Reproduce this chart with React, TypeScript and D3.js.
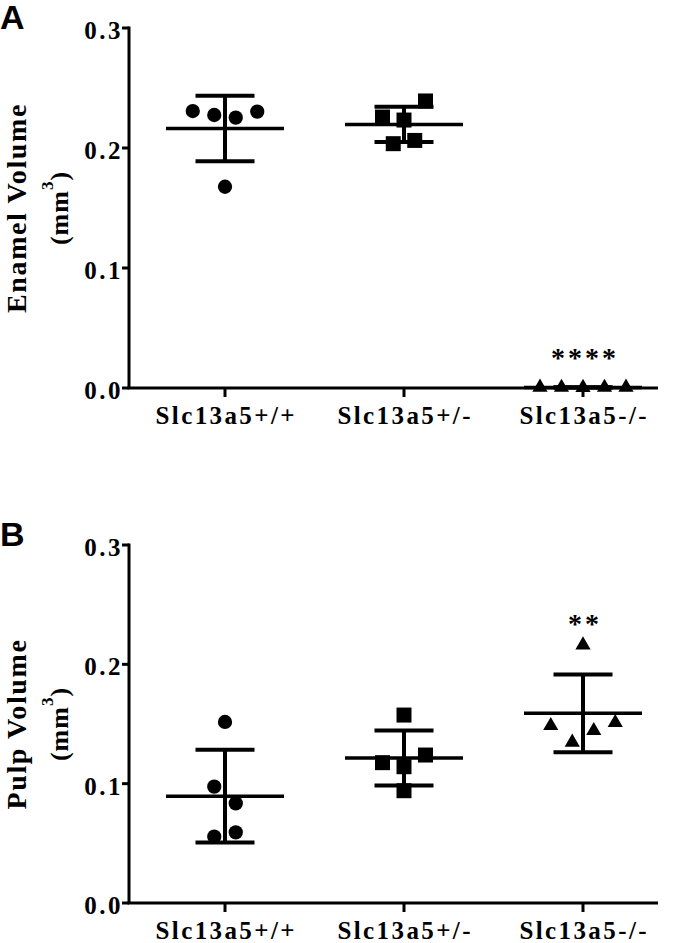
import React from "react";
import * as d3 from "d3";

const categories = ["Slc13a5+/+", "Slc13a5+/-", "Slc13a5-/-"];
const yTicks = [0, 0.1, 0.2, 0.3];

// Panel A: enamel volume (mm^3)
const enamelWT = [0.2308, 0.2275, 0.2253, 0.2303, 0.1677];
const enamelHet = [0.2392, 0.2258, 0.2233, 0.2036, 0.2063];
const enamelKO = [0.0006, 0.0005, 0.0003, 0.0005, 0.0006];
// Panel B: pulp volume (mm^3)
const pulpWT = [0.1517, 0.0975, 0.0835, 0.0556, 0.0592];
const pulpHet = [0.1575, 0.124, 0.1176, 0.1142, 0.0941];
const pulpKO = [0.2162, 0.1486, 0.1347, 0.1444, 0.1511];

// horizontal scatter slot of each point (dot-plot jitter)
const enamelWTSlot = [-1.5, -0.5, 0.5, 1.5, 0];
const enamelHetSlot = [1, -1, 0, -0.5, 0.5];
const enamelKOSlot = [-2, -1, 0, 1, 2];
const pulpWTSlot = [0, -0.5, 0.5, -0.5, 0.5];
const pulpHetSlot = [0, 1, -1, 0, 0];
const pulpKOSlot = [0, -1.5, -0.5, 0.5, 1.5];

const enamelSig = ["", "", "****"];
const pulpSig = ["", "", "**"];

const markers = [d3.symbolCircle, d3.symbolSquare, d3.symbolTriangle];
const markerSizes = [160, 225, 100];

const SERIF = "Liberation Serif, DejaVu Serif, serif";
const SANS = "Liberation Sans, Arial, sans-serif";

type PanelProps = {
  letter: string;
  top: number;
  bottom: number;
  titleLine: string;
  groups: number[][];
  slots: number[][];
  sig: string[];
  sigGap: number;
};

function Panel({ letter, top, bottom, titleLine, groups, slots, sig, sigGap }: PanelProps) {
  const axisX = 129;
  const axisEnd = 658;
  const x = d3.scalePoint<string>().domain(categories).range([225, 583]);
  const y = d3.scaleLinear().domain([0, 0.3]).range([bottom, top]);
  const slotW = 21.5;
  const midY = (top + bottom) / 2;
  const serif = { fontFamily: SERIF, fontWeight: 700 as const };
  return (
    <g>
      <text x={0} y={top + 1} style={{ fontFamily: SANS, fontWeight: 700 }} fontSize={34} fill="#000">
        {letter}
      </text>
      {/* y axis title */}
      <text
        transform={`translate(26,${midY}) rotate(-90)`}
        textAnchor="middle"
        style={serif}
        fontSize={28}
        letterSpacing={1.6}
      >
        {titleLine}
      </text>
      <text
        transform={`translate(68,${midY}) rotate(-90)`}
        textAnchor="middle"
        style={serif}
        fontSize={26}
        letterSpacing={1}
      >
        (mm
        <tspan fontSize={17} dy={-15}>3</tspan>
        <tspan dy={15}>)</tspan>
      </text>
      {/* y axis */}
      <line x1={axisX} x2={axisX} y1={top - 1.5} y2={bottom} stroke="#000" strokeWidth={3} />
      {yTicks.map((t) => (
        <g key={t}>
          <line x1={axisX - 7} x2={axisX} y1={y(t)} y2={y(t)} stroke="#000" strokeWidth={3} />
          <text
            x={123}
            y={y(t) + 11}
            textAnchor="end"
            style={serif}
            fontSize={25}
            letterSpacing={2.5}
          >
            {d3.format(".1f")(t)}
          </text>
        </g>
      ))}
      {/* x axis */}
      <line x1={axisX - 1.5} x2={axisEnd} y1={bottom} y2={bottom} stroke="#000" strokeWidth={3} />
      {categories.map((c) => (
        <g key={c}>
          <line x1={x(c)!} x2={x(c)!} y1={bottom} y2={bottom + 9} stroke="#000" strokeWidth={3} />
          <text
            x={x(c)! + 1.2}
            y={bottom + 36}
            textAnchor="middle"
            style={serif}
            fontSize={25}
            letterSpacing={2.4}
          >
            {c}
          </text>
        </g>
      ))}
      {groups.map((vals, gi) => {
        const cx = x(categories[gi])!;
        const mean = d3.mean(vals)!;
        const sd = d3.deviation(vals)!;
        const sym = d3.symbol(markers[gi], markerSizes[gi])()!;
        return (
          <g key={gi}>
            {vals.map((v, i) => (
              <path
                key={i}
                d={sym}
                transform={`translate(${cx + slots[gi][i] * slotW},${y(v)})`}
                fill="#000"
              />
            ))}
            <line x1={cx - 59} x2={cx + 59} y1={y(mean)} y2={y(mean)} stroke="#000" strokeWidth={3.5} />
            <line x1={cx} x2={cx} y1={y(mean + sd)} y2={y(mean - sd)} stroke="#000" strokeWidth={4} />
            <line x1={cx - 29.5} x2={cx + 29.5} y1={y(mean + sd)} y2={y(mean + sd)} stroke="#000" strokeWidth={4} />
            <line x1={cx - 29.5} x2={cx + 29.5} y1={y(mean - sd)} y2={y(mean - sd)} stroke="#000" strokeWidth={4} />
            {sig[gi] && (
              <text
                x={cx + 2}
                y={y(d3.max(vals)!) - sigGap}
                textAnchor="middle"
                style={serif}
                fontSize={28}
                letterSpacing={3}
              >
                {sig[gi]}
              </text>
            )}
          </g>
        );
      })}
    </g>
  );
}

export default function App() {
  return (
    <svg
      width={675}
      height={943}
      style={{ position: "absolute", left: 0, top: 0, background: "#fff" }}
    >
      <rect width={675} height={943} fill="#fff" />
      <Panel
        letter="A"
        top={28}
        bottom={388}
        titleLine="Enamel Volume"
        groups={[enamelWT, enamelHet, enamelKO]}
        slots={[enamelWTSlot, enamelHetSlot, enamelKOSlot]}
        sig={enamelSig}
        sigGap={20}
      />
      <Panel
        letter="B"
        top={545}
        bottom={903}
        titleLine="Pulp Volume"
        groups={[pulpWT, pulpHet, pulpKO]}
        slots={[pulpWTSlot, pulpHetSlot, pulpKOSlot]}
        sig={pulpSig}
        sigGap={12}
      />
    </svg>
  );
}
